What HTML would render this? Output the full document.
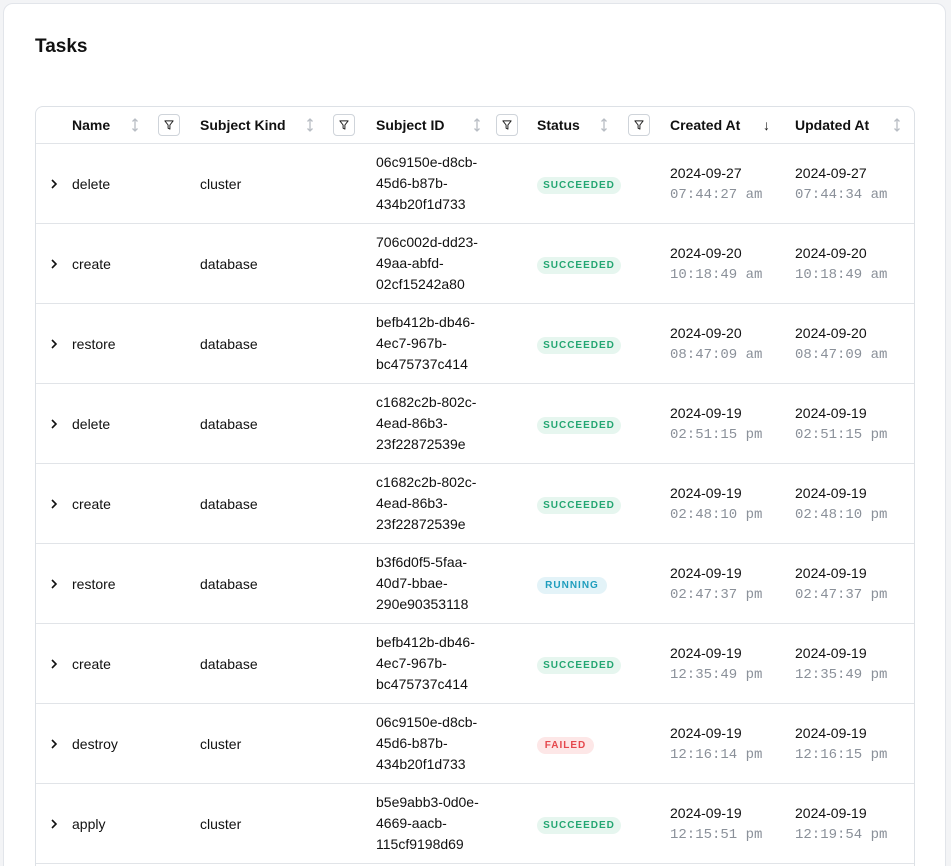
<!DOCTYPE html>
<html><head><meta charset="utf-8"><style>
*{box-sizing:border-box;margin:0;padding:0}
html,body{width:951px;height:866px;overflow:hidden}
body{background:#f3f4f6;font-family:"Liberation Sans",sans-serif;color:#111;position:relative}
.card{position:absolute;left:3px;top:3px;width:943px;height:900px;background:#fff;border:1px solid #e2e5ea;border-radius:10px}
h1{position:absolute;left:35px;top:36px;font-size:19px;font-weight:bold;color:#111}
.tbl{position:absolute;left:35px;top:106px;width:880px;height:800px;border:1px solid #dde1e6;border-radius:8px;background:#fff}
.t{position:absolute;font-size:14px;line-height:20px;white-space:nowrap}
.h{font-weight:bold;top:115px}
.s{position:absolute;top:117px;width:8px;height:16px}
.f{position:absolute;top:114px;width:22px;height:22px;border:1px solid #cfd4da;border-radius:4px}
.line{position:absolute;left:36px;width:878px;height:1px;background:#e1e4e8}
.mono{font-family:"Liberation Mono",monospace;color:#8a9099}
.b{position:absolute;height:17px;border-radius:9px;font-size:10px;font-weight:bold;letter-spacing:1px;line-height:17px;text-align:center}
.ok{background:#e6f6ef;color:#23a672;width:84px}
.run{background:#e3f3f8;color:#1e9dbd;width:70px}
.fail{background:#fde7e7;color:#e5484d;width:57px}
.chev{position:absolute;left:50px;width:8px;height:10px}
</style></head><body>
<svg width="0" height="0" style="position:absolute"><defs>
<symbol id="srt" viewBox="0 0 8 16"><path d="M4 2V14M1.5 4.5L4 2L6.5 4.5M1.5 11.5L4 14L6.5 11.5" fill="none" stroke="#b8bdc4" stroke-width="1.3"/></symbol>
<symbol id="flt" viewBox="0 0 22 22"><path d="M6.5 6.5H15.5L12 11V15.5L10 14.5V11Z" fill="none" stroke="#222" stroke-width="1.1" stroke-linejoin="round"/></symbol>
<symbol id="chv" viewBox="0 0 8 10"><path d="M2 1L6 5L2 9" fill="none" stroke="#111" stroke-width="1.6"/></symbol>
</defs></svg>
<div class="card"></div>
<h1>Tasks</h1>
<div class="tbl"></div>
<div class="t h" style="left:72px">Name</div><svg class="s" style="left:131px"><use href="#srt"/></svg><svg class="f" style="left:158px"><use href="#flt"/></svg>
<div class="t h" style="left:200px">Subject Kind</div><svg class="s" style="left:306px"><use href="#srt"/></svg><svg class="f" style="left:333px"><use href="#flt"/></svg>
<div class="t h" style="left:376px">Subject ID</div><svg class="s" style="left:473px"><use href="#srt"/></svg><svg class="f" style="left:496px"><use href="#flt"/></svg>
<div class="t h" style="left:537px">Status</div><svg class="s" style="left:600px"><use href="#srt"/></svg><svg class="f" style="left:628px"><use href="#flt"/></svg>
<div class="t h" style="left:670px">Created At</div><div class="t" style="left:763px;top:115px">↓</div>
<div class="t h" style="left:795px">Updated At</div><svg class="s" style="left:893px"><use href="#srt"/></svg>
<div class="line" style="top:143px"></div>

<svg class="chev" style="top:179px"><use href="#chv"/></svg><div class="t" style="left:72px;top:174px">delete</div><div class="t" style="left:200px;top:174px">cluster</div>
<div class="t" style="left:376px;top:152px;line-height:21px">06c9150e-d8cb-<br>45d6-b87b-<br>434b20f1d733</div>
<div class="b ok" style="left:537px;top:177px">SUCCEEDED</div>
<div class="t" style="left:670px;top:163px">2024-09-27<br><span class="mono">07:44:27 am</span></div>
<div class="t" style="left:795px;top:163px">2024-09-27<br><span class="mono">07:44:34 am</span></div>
<div class="line" style="top:223px"></div>

<svg class="chev" style="top:259px"><use href="#chv"/></svg><div class="t" style="left:72px;top:254px">create</div><div class="t" style="left:200px;top:254px">database</div>
<div class="t" style="left:376px;top:232px;line-height:21px">706c002d-dd23-<br>49aa-abfd-<br>02cf15242a80</div>
<div class="b ok" style="left:537px;top:257px">SUCCEEDED</div>
<div class="t" style="left:670px;top:243px">2024-09-20<br><span class="mono">10:18:49 am</span></div>
<div class="t" style="left:795px;top:243px">2024-09-20<br><span class="mono">10:18:49 am</span></div>
<div class="line" style="top:303px"></div>

<svg class="chev" style="top:339px"><use href="#chv"/></svg><div class="t" style="left:72px;top:334px">restore</div><div class="t" style="left:200px;top:334px">database</div>
<div class="t" style="left:376px;top:312px;line-height:21px">befb412b-db46-<br>4ec7-967b-<br>bc475737c414</div>
<div class="b ok" style="left:537px;top:337px">SUCCEEDED</div>
<div class="t" style="left:670px;top:323px">2024-09-20<br><span class="mono">08:47:09 am</span></div>
<div class="t" style="left:795px;top:323px">2024-09-20<br><span class="mono">08:47:09 am</span></div>
<div class="line" style="top:383px"></div>

<svg class="chev" style="top:419px"><use href="#chv"/></svg><div class="t" style="left:72px;top:414px">delete</div><div class="t" style="left:200px;top:414px">database</div>
<div class="t" style="left:376px;top:392px;line-height:21px">c1682c2b-802c-<br>4ead-86b3-<br>23f22872539e</div>
<div class="b ok" style="left:537px;top:417px">SUCCEEDED</div>
<div class="t" style="left:670px;top:403px">2024-09-19<br><span class="mono">02:51:15 pm</span></div>
<div class="t" style="left:795px;top:403px">2024-09-19<br><span class="mono">02:51:15 pm</span></div>
<div class="line" style="top:463px"></div>

<svg class="chev" style="top:499px"><use href="#chv"/></svg><div class="t" style="left:72px;top:494px">create</div><div class="t" style="left:200px;top:494px">database</div>
<div class="t" style="left:376px;top:472px;line-height:21px">c1682c2b-802c-<br>4ead-86b3-<br>23f22872539e</div>
<div class="b ok" style="left:537px;top:497px">SUCCEEDED</div>
<div class="t" style="left:670px;top:483px">2024-09-19<br><span class="mono">02:48:10 pm</span></div>
<div class="t" style="left:795px;top:483px">2024-09-19<br><span class="mono">02:48:10 pm</span></div>
<div class="line" style="top:543px"></div>

<svg class="chev" style="top:579px"><use href="#chv"/></svg><div class="t" style="left:72px;top:574px">restore</div><div class="t" style="left:200px;top:574px">database</div>
<div class="t" style="left:376px;top:552px;line-height:21px">b3f6d0f5-5faa-<br>40d7-bbae-<br>290e90353118</div>
<div class="b run" style="left:537px;top:577px">RUNNING</div>
<div class="t" style="left:670px;top:563px">2024-09-19<br><span class="mono">02:47:37 pm</span></div>
<div class="t" style="left:795px;top:563px">2024-09-19<br><span class="mono">02:47:37 pm</span></div>
<div class="line" style="top:623px"></div>

<svg class="chev" style="top:659px"><use href="#chv"/></svg><div class="t" style="left:72px;top:654px">create</div><div class="t" style="left:200px;top:654px">database</div>
<div class="t" style="left:376px;top:632px;line-height:21px">befb412b-db46-<br>4ec7-967b-<br>bc475737c414</div>
<div class="b ok" style="left:537px;top:657px">SUCCEEDED</div>
<div class="t" style="left:670px;top:643px">2024-09-19<br><span class="mono">12:35:49 pm</span></div>
<div class="t" style="left:795px;top:643px">2024-09-19<br><span class="mono">12:35:49 pm</span></div>
<div class="line" style="top:703px"></div>

<svg class="chev" style="top:739px"><use href="#chv"/></svg><div class="t" style="left:72px;top:734px">destroy</div><div class="t" style="left:200px;top:734px">cluster</div>
<div class="t" style="left:376px;top:712px;line-height:21px">06c9150e-d8cb-<br>45d6-b87b-<br>434b20f1d733</div>
<div class="b fail" style="left:537px;top:737px">FAILED</div>
<div class="t" style="left:670px;top:723px">2024-09-19<br><span class="mono">12:16:14 pm</span></div>
<div class="t" style="left:795px;top:723px">2024-09-19<br><span class="mono">12:16:15 pm</span></div>
<div class="line" style="top:783px"></div>

<svg class="chev" style="top:819px"><use href="#chv"/></svg><div class="t" style="left:72px;top:814px">apply</div><div class="t" style="left:200px;top:814px">cluster</div>
<div class="t" style="left:376px;top:792px;line-height:21px">b5e9abb3-0d0e-<br>4669-aacb-<br>115cf9198d69</div>
<div class="b ok" style="left:537px;top:817px">SUCCEEDED</div>
<div class="t" style="left:670px;top:803px">2024-09-19<br><span class="mono">12:15:51 pm</span></div>
<div class="t" style="left:795px;top:803px">2024-09-19<br><span class="mono">12:19:54 pm</span></div>
<div class="line" style="top:863px"></div>
</body></html>
